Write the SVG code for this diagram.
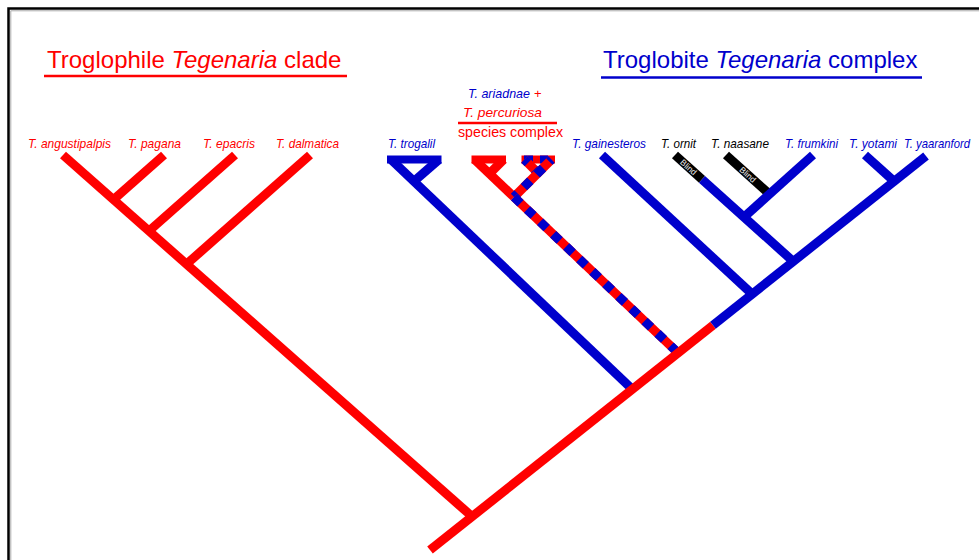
<svg xmlns="http://www.w3.org/2000/svg" width="979" height="560" viewBox="0 0 979 560">
<style>
.lbl{font-family:"Liberation Sans",Arial,sans-serif;font-size:13px;font-style:italic}
.txt{font-family:"Liberation Sans",Arial,sans-serif}
.r{fill:#FF0000}.b{fill:#0000CC}.k{fill:#000000}
.br{fill:none;stroke-width:9;stroke-linecap:butt}
.bar{fill:none;stroke-width:8;stroke-linecap:butt}
.red{stroke:#FF0000}.blue{stroke:#0000CC}.blk{stroke:#000000}
.dash{stroke:#0000CC;stroke-dasharray:9 9}
.title{font-family:"Liberation Sans",Arial,sans-serif;font-size:24px}
.blind{font-family:"Liberation Sans",Arial,sans-serif;font-size:8.5px;fill:#eeeeee}
</style>
<rect x="0" y="0" width="979" height="560" fill="#ffffff"/>
<path d="M10.8 560 V10.8 H979" fill="none" stroke="#aaaaaa" stroke-width="1"/>
<path d="M8.5 560 V8.5 H979" fill="none" stroke="#000000" stroke-width="2.5"/>

<g id="title-troglophile">
<text class="title r" x="47" y="68">Troglophile <tspan font-style="italic">Tegenaria</tspan> clade</text>
<line x1="44" y1="76" x2="347" y2="76" stroke="#FF0000" stroke-width="2.5"/>
</g>
<g id="title-troglobite">
<text class="title b" x="603" y="68">Troglobite <tspan font-style="italic">Tegenaria</tspan> complex</text>
<line x1="601" y1="77.5" x2="922" y2="77.5" stroke="#0000CC" stroke-width="2.5"/>
</g>

<g id="connectors">
<!-- left clade -->
<path class="br red" d="M164 155 L113.5 199.6"/>
<path class="br red" d="M235 155 L149 231"/>
<path class="br red" d="M310 155 L186.5 264.2"/>
<path class="br red" d="M63 155 L472 516.5"/>
<!-- trogalil -->
<path class="bar blue" d="M387 159.5 H441.5"/>
<path class="br blue" d="M439 159.5 L413.9 181.3"/>
<path class="br blue" d="M391 159.5 L632.3 389.3"/>
<!-- species complex -->
<path class="bar red" d="M471.5 159.5 H506"/>
<path class="br red" d="M503.6 159.5 L489.4 173.7"/>
<path class="br red" d="M474.5 159.5 L514 197"/>
<path class="bar red" d="M521.5 159.5 H555"/>
<path class="bar blue" d="M524 159.5 H533 M540 159.5 H548"/>
<path class="br red" d="M524.4 159.5 L537.95 173.05"/>
<path class="br dash" d="M524.4 159.5 L537.95 173.05" stroke-dashoffset="4"/>
<path class="br red" d="M551.5 159.5 L514 197"/>
<path class="br dash" d="M551.5 159.5 L514 197" stroke-dashoffset="6"/>
<path class="br red" d="M514 197 L678.1 352.9"/>
<path class="br dash" d="M514 197 L678.1 352.9"/>
<!-- troglobite complex -->
<path class="br blue" d="M602 155 L752.2 294.1"/>
<path class="br blk" d="M726 155 L769.5 194.2"/>
<path class="br blue" d="M813 155 L744 217.1"/>
<path class="br blk" d="M675 155 L702 179.3"/>
<path class="br blue" d="M702 179.3 L793.3 261.5"/>
<path class="br blue" d="M865 155 L894.2 181.3"/>
<!-- main trunk -->
<path class="br red" d="M430 550 L713 325.3"/>
<path class="br blue" d="M713 325.3 L926 156"/>
<text class="blind" text-anchor="middle" dy="3" transform="translate(688.5 167.2) rotate(42)">Blind</text>
<text class="blind" text-anchor="middle" dy="3" transform="translate(747.7 174.6) rotate(42)">Blind</text>
</g>

<g id="taxon-angustipalpis"><text class="lbl r" x="28" y="148" textLength="83" lengthAdjust="spacingAndGlyphs">T. angustipalpis</text></g>
<g id="taxon-pagana"><text class="lbl r" x="128" y="148" textLength="53" lengthAdjust="spacingAndGlyphs">T. pagana</text></g>
<g id="taxon-epacris"><text class="lbl r" x="203" y="148" textLength="52" lengthAdjust="spacingAndGlyphs">T. epacris</text></g>
<g id="taxon-dalmatica"><text class="lbl r" x="276" y="148" textLength="63" lengthAdjust="spacingAndGlyphs">T. dalmatica</text></g>
<g id="taxon-trogalil"><text class="lbl b" x="388" y="148" textLength="47" lengthAdjust="spacingAndGlyphs">T. trogalil</text></g>
<g id="taxon-species-complex">
<text class="lbl b" x="468" y="98" textLength="62" lengthAdjust="spacingAndGlyphs">T. ariadnae</text>
<text class="txt r" x="534" y="98" font-size="13">+</text>
<text class="lbl r" x="463" y="117" textLength="79" lengthAdjust="spacingAndGlyphs">T. percuriosa</text>
<line x1="458" y1="123" x2="557" y2="123" stroke="#FF0000" stroke-width="2.5"/>
<text class="txt r" x="458" y="137" font-size="14" textLength="105" lengthAdjust="spacingAndGlyphs">species complex</text>
</g>
<g id="taxon-gainesteros"><text class="lbl b" x="572" y="148" textLength="74" lengthAdjust="spacingAndGlyphs">T. gainesteros</text></g>
<g id="taxon-ornit"><text class="lbl k" x="661" y="148" textLength="35" lengthAdjust="spacingAndGlyphs">T. ornit</text></g>
<g id="taxon-naasane"><text class="lbl k" x="711" y="148" textLength="58" lengthAdjust="spacingAndGlyphs">T. naasane</text></g>
<g id="taxon-frumkini"><text class="lbl b" x="785" y="148" textLength="53" lengthAdjust="spacingAndGlyphs">T. frumkini</text></g>
<g id="taxon-yotami"><text class="lbl b" x="849" y="148" textLength="48" lengthAdjust="spacingAndGlyphs">T. yotami</text></g>
<g id="taxon-yaaranford"><text class="lbl b" x="904" y="148" font-size="12" textLength="66" lengthAdjust="spacingAndGlyphs">T. yaaranford</text></g>
</svg>
